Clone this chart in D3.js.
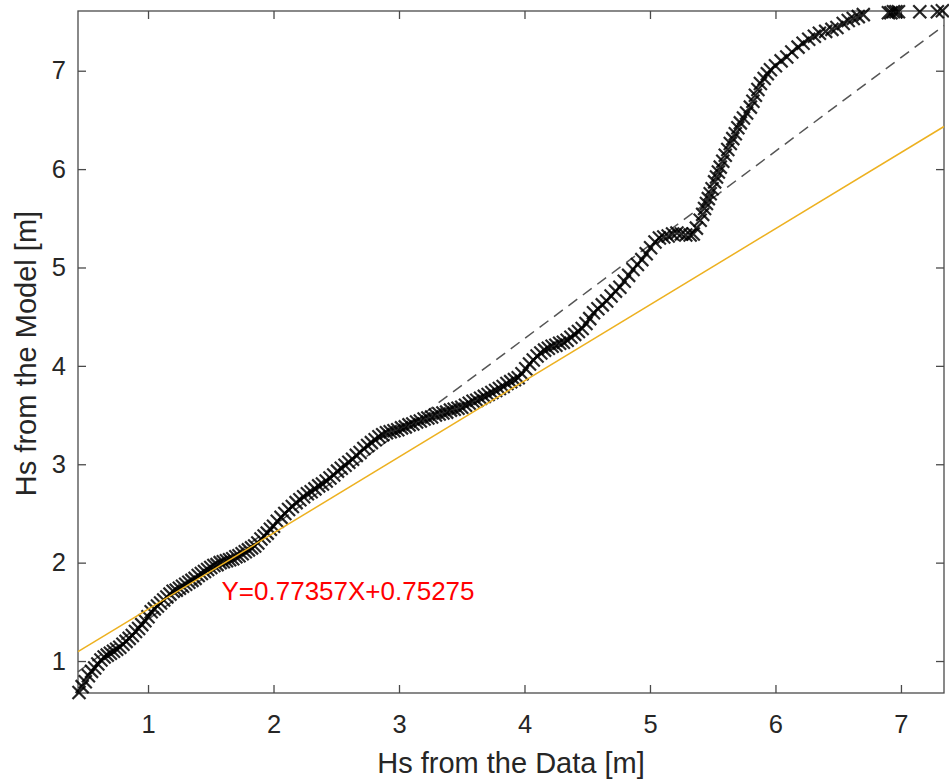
<!DOCTYPE html>
<html lang="en">
<head>
<meta charset="UTF-8">
<title>QQ plot Hs</title>
<style>
  body { margin: 0; background: #fff; }
  text { font-family: "Liberation Sans", Arial, Helvetica, sans-serif; }
</style>
</head>
<body>
<div id="chart"></div>
<script src="https://d3js.org/d3.v7.min.js"></script>
<script>

// quantiles: Hs from the data (x) vs Hs from the model (y)
const hsData = [
  0.45, 0.475, 0.50, 0.525, 0.55, 0.575, 0.60, 0.625, 0.65, 0.675, 0.70, 0.725, 0.75, 0.775,
  0.80, 0.825, 0.85, 0.875, 0.90, 0.925, 0.95, 0.975, 1.00, 1.025, 1.05, 1.075, 1.10, 1.125,
  1.15, 1.175, 1.20, 1.225, 1.25, 1.275, 1.30, 1.325, 1.35, 1.375, 1.40, 1.425, 1.45, 1.475,
  1.50, 1.525, 1.55, 1.575, 1.60, 1.625, 1.65, 1.675, 1.70, 1.725, 1.75, 1.775, 1.80, 1.825,
  1.85, 1.875, 1.90, 1.925, 1.95, 1.975,
  2.00, 2.03, 2.06, 2.09, 2.12, 2.15, 2.18, 2.21, 2.24, 2.27, 2.30, 2.33, 2.36, 2.39, 2.42,
  2.45, 2.48, 2.51, 2.54, 2.57, 2.60, 2.63, 2.66, 2.69, 2.72, 2.75, 2.78, 2.81, 2.84, 2.87,
  2.90, 2.93, 2.96, 2.99, 3.02, 3.05, 3.08, 3.11, 3.14, 3.17, 3.20, 3.23, 3.26, 3.29, 3.32,
  3.35, 3.38, 3.41, 3.44, 3.47, 3.50, 3.53, 3.56, 3.59, 3.62, 3.65, 3.68, 3.71, 3.74, 3.77,
  3.80, 3.83, 3.86, 3.89, 3.92, 3.95, 3.98, 4.01, 4.04, 4.07, 4.10, 4.13, 4.16, 4.19, 4.22,
  4.25, 4.28, 4.31, 4.34, 4.37, 4.40, 4.43, 4.46, 4.49, 4.52, 4.55,
  4.585, 4.62, 4.655, 4.69, 4.725, 4.76, 4.795, 4.83, 4.865, 4.90, 4.935, 4.97, 5.005, 5.04,
  5.075, 5.11, 5.145, 5.18, 5.215, 5.25, 5.285, 5.32, 5.345,
  5.37, 5.40, 5.42, 5.435, 5.45, 5.465, 5.48, 5.495, 5.515, 5.53, 5.545, 5.56, 5.58, 5.60,
  5.62, 5.64, 5.66, 5.68, 5.70, 5.72, 5.745, 5.77, 5.80, 5.82, 5.84, 5.86, 5.88, 5.91, 5.935,
  5.96, 6.00, 6.045, 6.09, 6.13, 6.18, 6.22, 6.265, 6.31, 6.35, 6.40, 6.45, 6.49, 6.54, 6.58,
  6.62, 6.66, 6.70,
  6.90, 6.92, 6.94, 6.96, 6.98, 7.15, 7.29, 7.33
];
const hsModel = [
  0.68, 0.74, 0.79, 0.85, 0.895, 0.93, 0.97, 1.01, 1.04, 1.06, 1.08, 1.10, 1.12, 1.14,
  1.17, 1.20, 1.23, 1.26, 1.30, 1.33, 1.37, 1.41, 1.45, 1.50, 1.53, 1.56, 1.59, 1.62,
  1.65, 1.68, 1.71, 1.72, 1.74, 1.76, 1.78, 1.80, 1.82, 1.84, 1.87, 1.89, 1.91, 1.93,
  1.95, 1.97, 1.98, 2.00, 2.01, 2.02, 2.03, 2.04, 2.06, 2.07, 2.09, 2.11, 2.13, 2.15,
  2.17, 2.20, 2.24, 2.27, 2.30, 2.34,
  2.37, 2.42, 2.46, 2.50, 2.54, 2.57, 2.61, 2.64, 2.67, 2.70, 2.72, 2.75, 2.78, 2.80, 2.83,
  2.86, 2.89, 2.93, 2.96, 2.99, 3.02, 3.05, 3.09, 3.12, 3.16, 3.19, 3.22, 3.25, 3.28, 3.30,
  3.32, 3.33, 3.34, 3.35, 3.37, 3.38, 3.40, 3.41, 3.43, 3.44, 3.46, 3.47, 3.48, 3.50, 3.51,
  3.52, 3.53, 3.55, 3.56, 3.57, 3.58, 3.60, 3.62, 3.64, 3.65, 3.67, 3.69, 3.71, 3.73, 3.75,
  3.77, 3.79, 3.82, 3.84, 3.86, 3.88, 3.92, 3.97, 4.02, 4.06, 4.10, 4.13, 4.16, 4.18, 4.20,
  4.21, 4.23, 4.24, 4.26, 4.29, 4.32, 4.35, 4.38, 4.43, 4.48, 4.54,
  4.58, 4.62, 4.66, 4.71, 4.76, 4.80, 4.86, 4.92, 4.98, 5.03, 5.08, 5.14, 5.20, 5.26,
  5.30, 5.31, 5.32, 5.34, 5.35, 5.34, 5.33, 5.33, 5.34,
  5.40, 5.48, 5.54, 5.60, 5.65, 5.70, 5.75, 5.80, 5.87, 5.92, 5.97, 6.02, 6.08, 6.14,
  6.20, 6.26, 6.31, 6.36, 6.42, 6.47, 6.52, 6.57, 6.63, 6.69, 6.75, 6.81, 6.87, 6.92, 6.97,
  7.01, 7.05, 7.10, 7.14, 7.19, 7.24, 7.28, 7.32, 7.35, 7.38, 7.40, 7.42, 7.44, 7.48, 7.51,
  7.53, 7.55, 7.57,
  7.59, 7.59, 7.60, 7.60, 7.60, 7.60, 7.60, 7.61
];

// reference line through the quartiles (dashed) and the fitted line
const refLine = { x: [0.442, 7.343], y: [0.89, 7.46] };
const fitSlope = 0.77357, fitIntercept = 0.75275;
const fitLabel = "Y=0.77357X+0.75275";

const xTicks = [1, 2, 3, 4, 5, 6, 7];
const yTicks = [1, 2, 3, 4, 5, 6, 7];

const W = 949, H = 782;
const margin = { top: 11, right: 5, bottom: 89, left: 78 };
const width = W - margin.left - margin.right,
  height = H - margin.top - margin.bottom;

const svg = d3.select("#chart").append("svg")
  .attr("width", W).attr("height", H);
const g = svg.append("g").attr("transform", `translate(${margin.left},${margin.top})`);

const x = d3.scaleLinear().domain([0.442, 7.343]).range([0, width]);
const y = d3.scaleLinear().domain([0.675, 7.607]).range([height, 0]);

const axisColor = "#4a4a4a", textColor = "#262626";
const tickLen = 8;

// axes with inward ticks, box on
function styleAxis(sel) {
  sel.select(".domain").remove();
  sel.selectAll(".tick line").attr("stroke", axisColor).attr("stroke-width", 1.3);
  sel.selectAll(".tick text")
    .attr("fill", textColor)
    .style("font-size", "25.5px");
}

g.append("g").attr("transform", `translate(0,${height})`)
  .call(d3.axisBottom(x).tickValues(xTicks).tickSize(-tickLen).tickPadding(22).tickFormat(d3.format("d")))
  .call(styleAxis);
g.append("g")
  .call(d3.axisTop(x).tickValues(xTicks).tickSize(-tickLen).tickFormat(""))
  .call(styleAxis);
g.append("g")
  .call(d3.axisLeft(y).tickValues(yTicks).tickSize(-tickLen).tickPadding(12).tickFormat(d3.format("d")))
  .call(styleAxis);
g.append("g").attr("transform", `translate(${width},0)`)
  .call(d3.axisRight(y).tickValues(yTicks).tickSize(-tickLen).tickFormat(""))
  .call(styleAxis);

g.append("rect")
  .attr("width", width).attr("height", height)
  .attr("fill", "none").attr("stroke", axisColor).attr("stroke-width", 1.3);

// dashed reference line
g.append("line")
  .attr("x1", x(refLine.x[0])).attr("y1", y(refLine.y[0]))
  .attr("x2", x(refLine.x[1])).attr("y2", y(refLine.y[1]))
  .attr("stroke", "#555")
  .attr("stroke-width", 1.5)
  .attr("stroke-dasharray", "11,7");

// x markers
const pts = hsData.map((d, i) => [d, hsModel[i]]);
const s = 6.5;
g.append("g").selectAll("path")
  .data(pts)
  .join("path")
  .attr("transform", d => `translate(${x(d[0])},${y(d[1])})`)
  .attr("d", `M${-s},${-s}L${s},${s}M${-s},${s}L${s},${-s}`)
  .attr("stroke", "#000")
  .attr("stroke-width", 2.2)
  .attr("stroke-opacity", 0.85)
  .attr("fill", "none");

// fitted line
const xd = x.domain();
g.append("line")
  .attr("x1", x(xd[0])).attr("y1", y(fitSlope * xd[0] + fitIntercept))
  .attr("x2", x(xd[1])).attr("y2", y(fitSlope * xd[1] + fitIntercept))
  .attr("stroke", "#EDB120")
  .attr("stroke-width", 1.5);

g.append("text")
  .attr("x", 221.5 - margin.left).attr("y", 600 - margin.top)
  .attr("fill", "#ff0000")
  .style("font-size", "26px")
  .text(fitLabel);

// axis labels
svg.append("text")
  .attr("x", margin.left + width / 2).attr("y", 773)
  .attr("text-anchor", "middle")
  .attr("fill", textColor)
  .style("font-size", "29px")
  .text("Hs from the Data [m]");

svg.append("text")
  .attr("transform", `translate(36,353.5) rotate(-90)`)
  .attr("text-anchor", "middle")
  .attr("fill", textColor)
  .style("font-size", "29px")
  .text("Hs from the Model [m]");

</script>
</body>
</html>
